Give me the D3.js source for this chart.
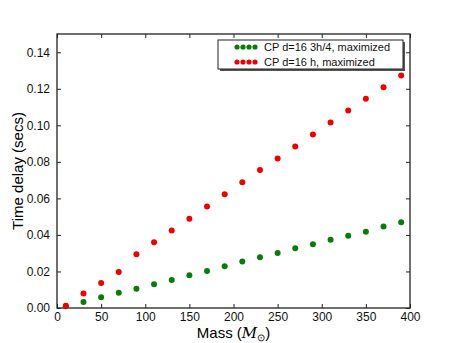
<!DOCTYPE html>
<html lang="en">
<head>
<meta charset="UTF-8">
<title>Time delay vs mass</title>
<style>
  body { margin: 0; background: #fff; }
  svg { display: block; font-family: 'Liberation Sans', Arial, sans-serif; }
</style>
</head>
<body>
<svg width="457" height="343"></svg>
<script src="https://d3js.org/d3.v7.min.js"></script>
<script>
// masses (solar masses)
const mass = [10, 30, 50, 70, 90, 110, 130, 150, 170, 190, 210, 230, 250, 270, 290, 310, 330, 350, 370, 390];
// CP d=16 3h/4, maximized
const green = [0.0009, 0.0033, 0.0059, 0.0084, 0.0106, 0.0130, 0.0153, 0.0179, 0.0203, 0.0228,
               0.0254, 0.0278, 0.0301, 0.0327, 0.0349, 0.0373, 0.0396, 0.0418, 0.0446, 0.0470];
// CP d=16 h, maximized
const red = [0.0012, 0.0080, 0.0137, 0.0197, 0.0294, 0.0360, 0.0424, 0.0488, 0.0555, 0.0623,
             0.0689, 0.0755, 0.0818, 0.0884, 0.0950, 0.1015, 0.1081, 0.1145, 0.1209, 0.1273];
const xTicks = [0, 50, 100, 150, 200, 250, 300, 350, 400];
const yTicks = [0, 0.02, 0.04, 0.06, 0.08, 0.10, 0.12, 0.14];
const legendLabels = ["CP d=16 3h/4, maximized", "CP d=16 h, maximized"];
const colors = ["#0a7a0a", "#ee0000"];

const svg = d3.select("svg");
const m = { left: 57, right: 410, top: 34, bottom: 308 };

const x = d3.scaleLinear().domain([0, 400]).range([m.left, m.right]);
const y = d3.scaleLinear().domain([0, 0.15]).range([m.bottom, m.top]);

// frame
svg.append("rect")
  .attr("x", m.left).attr("y", m.top)
  .attr("width", m.right - m.left).attr("height", m.bottom - m.top)
  .attr("fill", "none").attr("stroke", "#222").attr("stroke-width", 1.3);

// axes with inward ticks
const tickStyle = g => {
  g.select(".domain").remove();
  g.selectAll("line").attr("stroke", "#222");
  g.selectAll("text").attr("fill", "#111").style("font-size", "12px");
};

svg.append("g")
  .attr("transform", `translate(0,${m.bottom})`)
  .call(d3.axisBottom(x).tickValues(xTicks).tickFormat(d3.format("d")).tickSizeInner(-4).tickPadding(4))
  .call(tickStyle);
svg.append("g")
  .attr("transform", `translate(0,${m.top})`)
  .call(d3.axisTop(x).tickValues(xTicks).tickFormat("").tickSizeInner(-4))
  .call(tickStyle);
svg.append("g")
  .attr("transform", `translate(${m.left},0)`)
  .call(d3.axisLeft(y).tickValues(yTicks).tickFormat(d3.format(".2f")).tickSizeInner(-4).tickPadding(7))
  .call(tickStyle);
svg.append("g")
  .attr("transform", `translate(${m.right},0)`)
  .call(d3.axisRight(y).tickValues(yTicks).tickFormat("").tickSizeInner(-4))
  .call(tickStyle);

// points
[green, red].forEach((series, i) => {
  svg.append("g").selectAll("circle")
    .data(series)
    .join("circle")
    .attr("cx", (d, j) => x(mass[j]))
    .attr("cy", d => y(d))
    .attr("r", 3)
    .attr("fill", colors[i]);
});

// axis labels
svg.append("text")
  .attr("transform", `translate(23,${(m.top + m.bottom) / 2}) rotate(-90)`)
  .attr("text-anchor", "middle")
  .style("font-size", "15px")
  .text("Time delay (secs)");

const xl = svg.append("text")
  .attr("x", (m.left + m.right) / 2).attr("y", 338)
  .attr("text-anchor", "middle")
  .style("font-size", "15px");
xl.append("tspan").text("Mass (");
xl.append("tspan").attr("font-style", "italic").attr("font-family", "'DejaVu Serif', serif").text("M");
xl.append("tspan").attr("dy", 3).style("font-size", "10px").text("\u2299");
xl.append("tspan").attr("dy", -3).text(")");

// legend
const lg = svg.append("g").attr("transform", "translate(218,40)");
lg.append("rect").attr("x", 2).attr("y", 2).attr("width", 185).attr("height", 29).attr("fill", "#555");
lg.append("rect").attr("width", 185).attr("height", 29)
  .attr("fill", "#fff").attr("stroke", "#222").attr("stroke-width", 1);
legendLabels.forEach((lab, i) => {
  const row = lg.append("g").attr("transform", `translate(0,${7 + i * 15})`);
  row.selectAll("circle")
    .data(d3.range(4))
    .join("circle")
    .attr("cx", k => 19 + k * 6)
    .attr("cy", 0)
    .attr("r", 2.6)
    .attr("fill", colors[i]);
  row.append("text")
    .attr("x", 46).attr("y", 4)
    .style("font-size", "11px")
    .attr("fill", "#111")
    .text(lab);
});
</script>
</body>
</html>
